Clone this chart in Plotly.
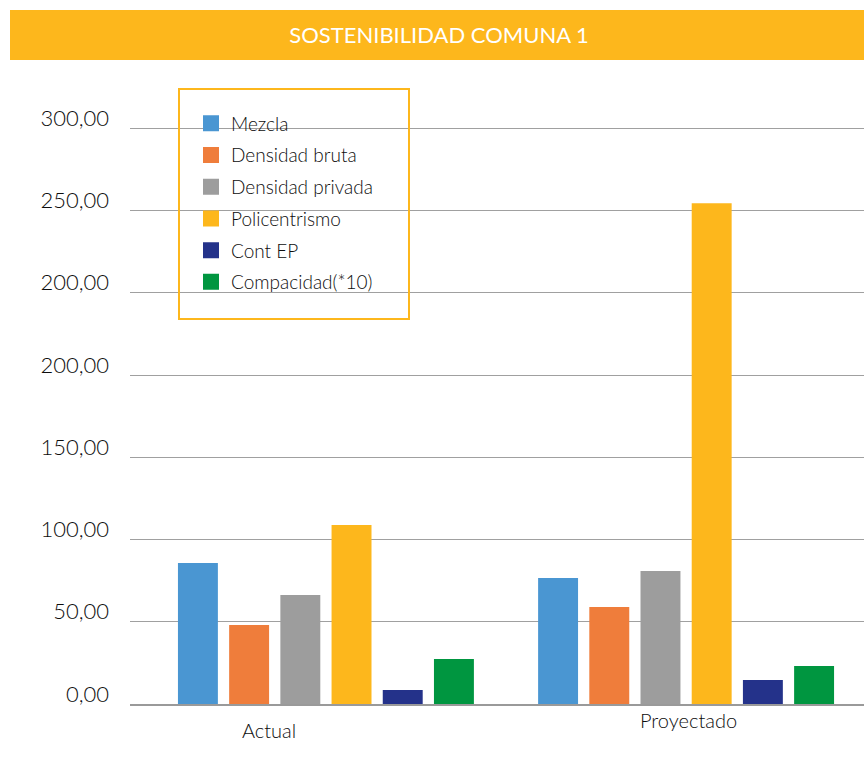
import plotly.graph_objects as go

categories = ["Actual", "Proyectado"]
series_names = ["Mezcla", "Densidad bruta", "Densidad privada", "Policentrismo", "Cont EP", "Compacidad(*10)"]
mezcla = [85.7, 76.6]
densidad_bruta = [48.0, 58.9]
densidad_privada = [66.2, 80.8]
policentrismo = [108.8, 304.4]
cont_ep = [8.5, 14.6]
compacidad = [27.3, 23.1]
tick_vals = [0, 50, 100, 150, 200, 250, 300, 350]
tick_text = ["0,00", "50,00", "100,00", "150,00", "200,00", "200,00", "250,00", "300,00"]

colors = ["#4A96D2", "#EF7D3B", "#9D9D9D", "#FDB71C", "#24328A", "#009640"]
series = [mezcla, densidad_bruta, densidad_privada, policentrismo, cont_ep, compacidad]
FONT = "Lato"
TXT = "#0d0d0d"

fig = go.Figure()
for name, vals, col in zip(series_names, series, colors):
    fig.add_trace(go.Bar(x=categories, y=vals, name=name, marker=dict(color=col, line=dict(width=0)),
                         showlegend=False))
for i, (name, col) in enumerate(zip(series_names, colors)):
    fig.add_trace(go.Scatter(x=[None], y=[None], mode="markers", name=name,
                             marker=dict(symbol="square", size=20, color=col),
                             legendgroup=f"g{i}", showlegend=True))

L, T, B = 130, 125, 68
W, H = 864, 772
pw, ph = W - L, H - T - B

def px(x):
    return (x - L) / pw

def py(y):
    return (H - B - y) / ph

fig.update_layout(
    width=W, height=H,
    margin=dict(l=L, r=0, t=T, b=B),
    paper_bgcolor="white", plot_bgcolor="white",
    barmode="group", bargap=0.147, bargroupgap=0.22,
    font=dict(family=FONT, color=TXT),
    title=dict(text="SOSTENIBILIDAD COMUNA 1", x=439 / W, xanchor="center",
               y=1 - 35 / H, yanchor="middle", font=dict(color="white", size=22, family=FONT)),
    shapes=[
        dict(type="rect", xref="paper", yref="paper", x0=px(10), x1=px(864), y0=py(60), y1=py(10),
             fillcolor="#FDB71C", line=dict(width=0), layer="below"),
        dict(type="rect", xref="paper", yref="paper", x0=px(179), x1=px(409), y0=py(319), y1=py(89),
             fillcolor="rgba(0,0,0,0)", line=dict(width=2, color="#FDB71C")),
    ],
    legend=dict(x=px(191), xanchor="left", y=py(104.5), yanchor="top",
                bgcolor="rgba(0,0,0,0)", borderwidth=0, traceorder="grouped", tracegroupgap=4,
                font=dict(size=19, family=FONT, color=TXT, weight=300)),
    xaxis=dict(type="category", range=[-0.544, 1.494], showticklabels=False, showgrid=False,
               showline=True, linecolor="#9A9A9A", linewidth=1.5, zeroline=False, fixedrange=True),
    yaxis=dict(range=[0, 352], tickvals=tick_vals, ticktext=tick_text, showgrid=True,
               gridcolor="#A0A0A0", gridwidth=1, zeroline=False, showline=False,
               ticklabelstandoff=20, ticklabelshift=-10,
               tickfont=dict(size=22, family=FONT, color=TXT, weight=300)),
    annotations=[
        dict(x="Actual", xref="x", y=0, yref="paper", text="Actual", showarrow=False,
             xshift=-57, yshift=-26, yanchor="middle",
             font=dict(size=20, family=FONT, color=TXT, weight=300)),
        dict(x="Proyectado", xref="x", y=0, yref="paper", text="Proyectado", showarrow=False,
             xshift=2, yshift=-16, yanchor="middle",
             font=dict(size=20, family=FONT, color=TXT, weight=300)),
    ],
)

fig.write_html("out.html")
